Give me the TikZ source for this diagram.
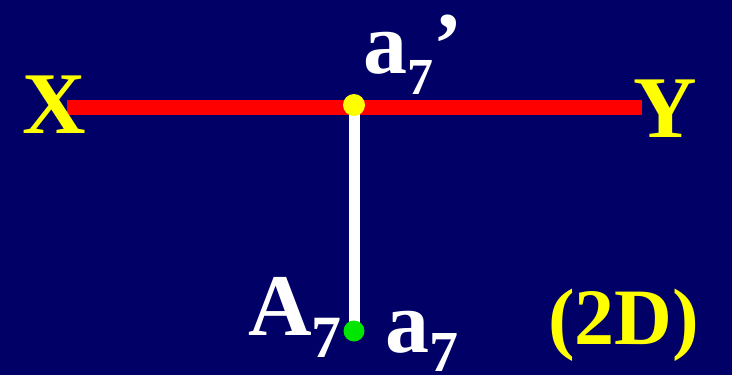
\documentclass[tikz,border=0pt]{standalone}
\usepackage{fontspec}
\setmainfont{Liberation Serif}
\usetikzlibrary{backgrounds}
\definecolor{navy}{RGB}{0,0,102}
\definecolor{ylw}{RGB}{255,255,0}
\definecolor{grn}{RGB}{0,230,0}
\tikzset{
  lbl/.style={anchor=base west,inner sep=0pt,font=\bfseries\fontsize{88}{90}\selectfont},
  dot/.style={circle,inner sep=0pt,minimum size=#1}
}
\newcommand{\subsc}[2]{\raisebox{-#1pt}{\fontsize{#2}{#2}\selectfont 7}}
\begin{document}
\begin{tikzpicture}[x=1pt,y=-1pt]
\useasboundingbox (0,0) rectangle (732,375);
\coordinate (L) at (67,107.5);
\coordinate (R) at (642,107.5);
\node[dot=22,fill=ylw] (ap) at (354,105) {};
\node[dot=21,fill=grn] (A) at (354,331) {};
\begin{scope}[on background layer]
\fill[navy] (0,0) rectangle (732,375);
\draw[red,line width=15pt] (L) -- (R);
\draw[white,line width=11pt] (ap.center) -- (A.center);
\end{scope}
\node[lbl,text=ylw] (xl) at (22,133) {X};
\node[lbl,text=ylw] (yl) at (633,137) {Y};
\node[lbl,text=white] (apl) at (363,73) {a\subsc{21}{52}’};
\node[lbl,text=white] (Al) at (248,335) {A\subsc{22}{60}};
\node[lbl,text=white] (al) at (385,352) {a\subsc{19}{58}};
\node[lbl,text=ylw,font=\bfseries\fontsize{80}{82}\selectfont] (dl) at (548,344) {(2D)};
\end{tikzpicture}
\end{document}
